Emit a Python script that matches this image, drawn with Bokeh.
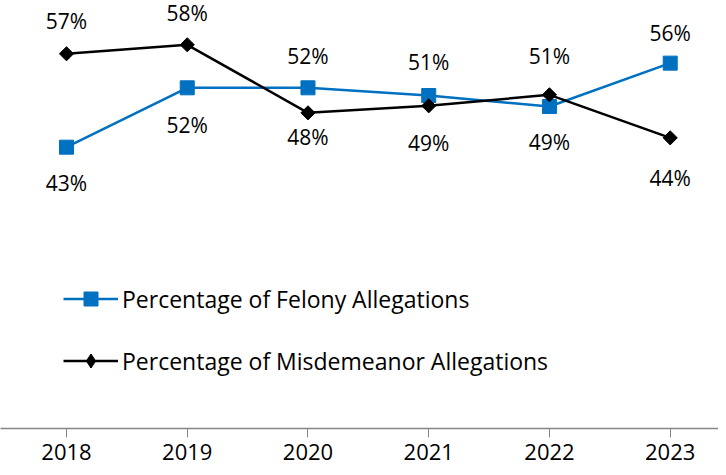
import math
from bokeh.plotting import figure
from bokeh.core.properties import value
from bokeh.models import ColumnDataSource, LabelSet, Legend, LegendItem, Range1d, FixedTicker
from bokeh.embed import file_html
from bokeh.resources import INLINE

# ---- data ----
years = [2018, 2019, 2020, 2021, 2022, 2023]
year_labels = ["2018", "2019", "2020", "2021", "2022", "2023"]
felony = [43.0, 51.9, 51.9, 50.75, 49.1, 55.6]
misdemeanor = [57.0, 58.35, 48.15, 49.2, 50.85, 44.4]
felony_text = ["43%", "52%", "52%", "51%", "49%", "56%"]
misdemeanor_text = ["57%", "58%", "48%", "49%", "51%", "44%"]

# ---- style ----
FONT = "Open Sans"
BLUE = "#0070C0"
BLACK = "#000000"
AXIS_GRAY = "#868686"
# label offsets in screen pixels (positive = up)
felony_label_dy = [-36, -37, 32, 33, -36, 30]
misd_label_dy = [33, 32, -24, -37, 39, -40]

p = figure(width=718, height=467, output_backend="svg", toolbar_location=None,
           x_range=Range1d(2017.4534, 2023.4), y_range=Range1d(0.825, 64.99),
           y_axis_location=None, min_border_left=0, min_border_right=0,
           min_border_top=0, min_border_bottom=39)
p.outline_line_color = None
p.xgrid.visible = False
p.ygrid.visible = False

fsrc = ColumnDataSource(dict(x=years, y=felony, t=felony_text, dy=felony_label_dy))
msrc = ColumnDataSource(dict(x=years, y=misdemeanor, t=misdemeanor_text, dy=misd_label_dy))

fl = p.line("x", "y", source=fsrc, line_color=BLUE, line_width=2.5)
fm = p.scatter("x", "y", source=fsrc, marker="square", size=14, fill_color=BLUE, line_color=BLUE)
ml = p.line("x", "y", source=msrc, line_color=BLACK, line_width=2.5)
mm = p.scatter("x", "y", source=msrc, marker="square", size=10, angle=math.pi / 4,
               fill_color=BLACK, line_color=BLACK)
# legend-only diamond sample (off-chart, not drawn)
md = p.scatter(x=[float("nan")], y=[float("nan")], marker="diamond", size=16,
               fill_color=BLACK, line_color=BLACK)

for src in (fsrc, msrc):
    p.add_layout(LabelSet(x="x", y="y", text="t", y_offset="dy", source=src,
                          text_align="center", text_baseline="middle",
                          text_font=value(FONT), text_font_size="21px", text_color="#000000"))

legend = Legend(items=[LegendItem(label="Percentage of Felony Allegations", renderers=[fl, fm]),
                       LegendItem(label="Percentage of Misdemeanor Allegations", renderers=[ml, md])],
                location=(63, 50), orientation="vertical")
legend.padding = 0
legend.margin = 0
legend.spacing = 27
legend.glyph_width = 55
legend.glyph_height = 35
legend.label_height = 35
legend.label_standoff = 4
legend.border_line_color = None
legend.background_fill_alpha = 0
legend.label_text_font = FONT
legend.label_text_font_size = "23px"
legend.label_text_color = "#000000"
p.add_layout(legend, "center")

ax = p.xaxis[0]
ax.ticker = FixedTicker(ticks=years)
ax.major_label_overrides = {y: l for y, l in zip(years, year_labels)}
ax.axis_line_color = AXIS_GRAY
ax.axis_line_width = 1.5
ax.major_tick_line_color = AXIS_GRAY
ax.major_tick_in = 0
ax.major_tick_out = 9
ax.minor_tick_line_color = None
ax.major_label_standoff = 6
ax.major_label_text_font = FONT
ax.major_label_text_font_size = "22px"
ax.major_label_text_color = "#000000"

open("out.html", "w").write(file_html(p, INLINE))
